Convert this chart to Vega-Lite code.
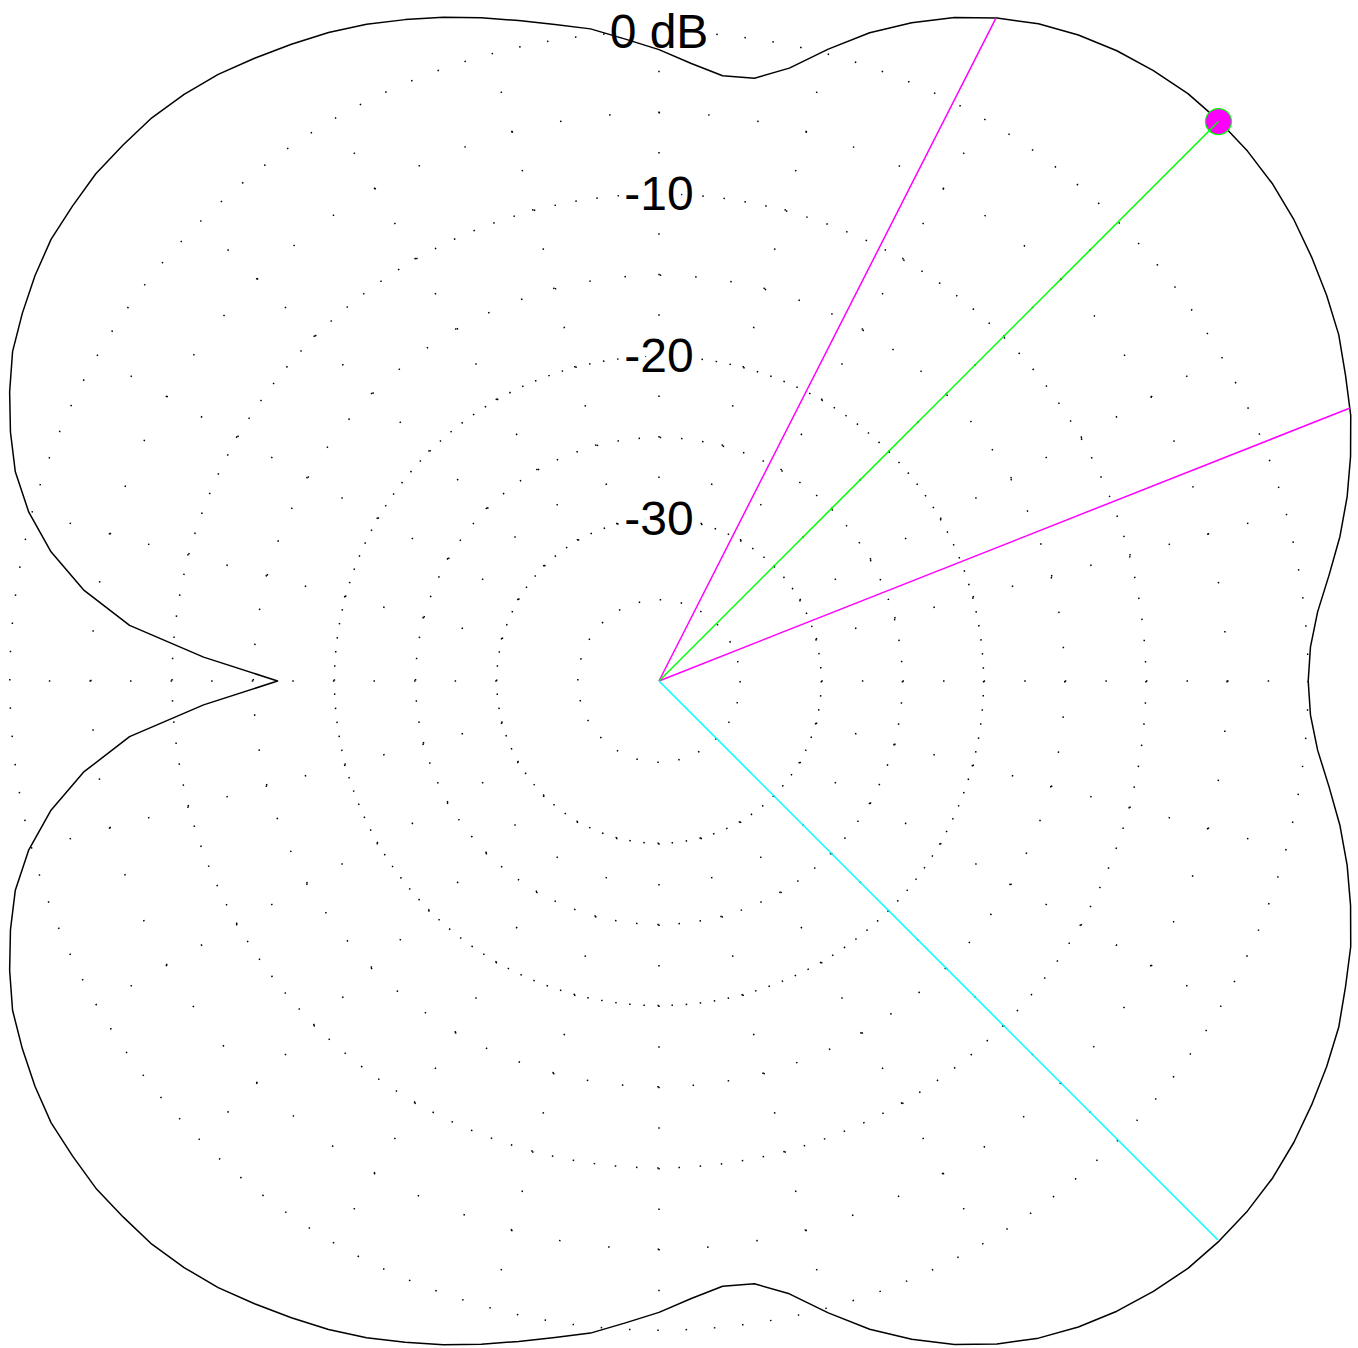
{
  "$schema": "https://vega.github.io/schema/vega-lite/v6.json",
  "width": 1358,
  "height": 1348,
  "padding": 0,
  "autosize": {"type": "none"},
  "background": "white",
  "config": {"view": {"stroke": null}},
  "datasets": {
    "pattern": [
      {"deg": 0, "x": 40.0, "y": 0.0},
      {"deg": 3, "x": 40.14, "y": 2.10},
      {"deg": 6, "x": 40.58, "y": 4.26},
      {"deg": 9, "x": 41.29, "y": 6.54},
      {"deg": 12, "x": 41.96, "y": 8.92},
      {"deg": 15, "x": 42.40, "y": 11.36},
      {"deg": 18, "x": 42.61, "y": 13.84},
      {"deg": 21, "x": 42.62, "y": 16.36},
      {"deg": 24, "x": 42.30, "y": 18.83},
      {"deg": 27, "x": 41.88, "y": 21.34},
      {"deg": 30, "x": 41.14, "y": 23.75},
      {"deg": 33, "x": 40.21, "y": 26.12},
      {"deg": 36, "x": 39.12, "y": 28.42},
      {"deg": 39, "x": 37.81, "y": 30.62},
      {"deg": 42, "x": 36.26, "y": 32.65},
      {"deg": 45, "x": 34.51, "y": 34.51},
      {"deg": 48, "x": 32.59, "y": 36.19},
      {"deg": 51, "x": 30.46, "y": 37.61},
      {"deg": 54, "x": 28.21, "y": 38.83},
      {"deg": 57, "x": 25.84, "y": 39.80},
      {"deg": 60, "x": 23.38, "y": 40.49},
      {"deg": 63, "x": 20.82, "y": 40.85},
      {"deg": 66, "x": 18.20, "y": 40.88},
      {"deg": 69, "x": 15.57, "y": 40.56},
      {"deg": 72, "x": 12.98, "y": 39.94},
      {"deg": 75, "x": 10.43, "y": 38.93},
      {"deg": 78, "x": 8.03, "y": 37.76},
      {"deg": 81, "x": 5.88, "y": 37.14},
      {"deg": 84, "x": 3.92, "y": 37.29},
      {"deg": 87, "x": 1.99, "y": 38.05},
      {"deg": 90, "x": 0.0, "y": 38.90},
      {"deg": 93, "x": -2.07, "y": 39.55},
      {"deg": 96, "x": -4.22, "y": 40.18},
      {"deg": 99, "x": -6.41, "y": 40.45},
      {"deg": 102, "x": -8.65, "y": 40.69},
      {"deg": 105, "x": -10.95, "y": 40.86},
      {"deg": 108, "x": -13.29, "y": 40.90},
      {"deg": 111, "x": -15.64, "y": 40.75},
      {"deg": 114, "x": -18.02, "y": 40.47},
      {"deg": 117, "x": -20.36, "y": 39.96},
      {"deg": 120, "x": -22.65, "y": 39.23},
      {"deg": 123, "x": -24.92, "y": 38.37},
      {"deg": 126, "x": -27.16, "y": 37.38},
      {"deg": 129, "x": -29.26, "y": 36.14},
      {"deg": 132, "x": -31.25, "y": 34.70},
      {"deg": 135, "x": -33.02, "y": 33.02},
      {"deg": 138, "x": -34.70, "y": 31.25},
      {"deg": 141, "x": -36.14, "y": 29.26},
      {"deg": 144, "x": -37.46, "y": 27.21},
      {"deg": 147, "x": -38.45, "y": 24.97},
      {"deg": 150, "x": -39.23, "y": 22.65},
      {"deg": 153, "x": -39.83, "y": 20.29},
      {"deg": 156, "x": -40.01, "y": 17.82},
      {"deg": 159, "x": -39.96, "y": 15.34},
      {"deg": 162, "x": -39.66, "y": 12.89},
      {"deg": 165, "x": -38.83, "y": 10.40},
      {"deg": 168, "x": -37.46, "y": 7.96},
      {"deg": 171, "x": -35.46, "y": 5.62},
      {"deg": 174, "x": -32.62, "y": 3.43},
      {"deg": 177, "x": -28.06, "y": 1.47},
      {"deg": 180, "x": -23.50, "y": 0.0},
      {"deg": 183, "x": -28.06, "y": -1.47},
      {"deg": 186, "x": -32.62, "y": -3.43},
      {"deg": 189, "x": -35.46, "y": -5.62},
      {"deg": 192, "x": -37.46, "y": -7.96},
      {"deg": 195, "x": -38.83, "y": -10.40},
      {"deg": 198, "x": -39.66, "y": -12.89},
      {"deg": 201, "x": -39.96, "y": -15.34},
      {"deg": 204, "x": -40.01, "y": -17.82},
      {"deg": 207, "x": -39.83, "y": -20.29},
      {"deg": 210, "x": -39.23, "y": -22.65},
      {"deg": 213, "x": -38.45, "y": -24.97},
      {"deg": 216, "x": -37.46, "y": -27.21},
      {"deg": 219, "x": -36.14, "y": -29.26},
      {"deg": 222, "x": -34.70, "y": -31.25},
      {"deg": 225, "x": -33.02, "y": -33.02},
      {"deg": 228, "x": -31.25, "y": -34.70},
      {"deg": 231, "x": -29.26, "y": -36.14},
      {"deg": 234, "x": -27.16, "y": -37.38},
      {"deg": 237, "x": -24.92, "y": -38.37},
      {"deg": 240, "x": -22.65, "y": -39.23},
      {"deg": 243, "x": -20.36, "y": -39.96},
      {"deg": 246, "x": -18.02, "y": -40.47},
      {"deg": 249, "x": -15.64, "y": -40.75},
      {"deg": 252, "x": -13.29, "y": -40.90},
      {"deg": 255, "x": -10.95, "y": -40.86},
      {"deg": 258, "x": -8.65, "y": -40.69},
      {"deg": 261, "x": -6.41, "y": -40.45},
      {"deg": 264, "x": -4.22, "y": -40.18},
      {"deg": 267, "x": -2.07, "y": -39.55},
      {"deg": 270, "x": 0.0, "y": -38.90},
      {"deg": 273, "x": 1.99, "y": -38.05},
      {"deg": 276, "x": 3.92, "y": -37.29},
      {"deg": 279, "x": 5.88, "y": -37.14},
      {"deg": 282, "x": 8.03, "y": -37.76},
      {"deg": 285, "x": 10.43, "y": -38.93},
      {"deg": 288, "x": 12.98, "y": -39.94},
      {"deg": 291, "x": 15.57, "y": -40.56},
      {"deg": 294, "x": 18.20, "y": -40.88},
      {"deg": 297, "x": 20.82, "y": -40.85},
      {"deg": 300, "x": 23.38, "y": -40.49},
      {"deg": 303, "x": 25.84, "y": -39.80},
      {"deg": 306, "x": 28.21, "y": -38.83},
      {"deg": 309, "x": 30.46, "y": -37.61},
      {"deg": 312, "x": 32.59, "y": -36.19},
      {"deg": 315, "x": 34.51, "y": -34.51},
      {"deg": 318, "x": 36.26, "y": -32.65},
      {"deg": 321, "x": 37.81, "y": -30.62},
      {"deg": 324, "x": 39.12, "y": -28.42},
      {"deg": 327, "x": 40.21, "y": -26.12},
      {"deg": 330, "x": 41.14, "y": -23.75},
      {"deg": 333, "x": 41.88, "y": -21.34},
      {"deg": 336, "x": 42.30, "y": -18.83},
      {"deg": 339, "x": 42.62, "y": -16.36},
      {"deg": 342, "x": 42.61, "y": -13.84},
      {"deg": 345, "x": 42.40, "y": -11.36},
      {"deg": 348, "x": 41.96, "y": -8.92},
      {"deg": 351, "x": 41.29, "y": -6.54},
      {"deg": 354, "x": 40.58, "y": -4.26},
      {"deg": 357, "x": 40.14, "y": -2.10},
      {"deg": 360, "x": 40.0, "y": 0.0}
    ],
    "rings": [
      {"r": 5, "cx": 0, "cy": 0}, {"r": 10, "cx": 0, "cy": 0}, {"r": 15, "cx": 0, "cy": 0}, {"r": 20, "cx": 0, "cy": 0},
      {"r": 25, "cx": 0, "cy": 0}, {"r": 30, "cx": 0, "cy": 0}, {"r": 35, "cx": 0, "cy": 0}, {"r": 40, "cx": 0, "cy": 0}
    ],
    "rays": [
      {"deg": 0, "sx": 10.0, "sy": 0.0, "ex": 40.0, "ey": 0.0},
      {"deg": 15, "sx": 9.66, "sy": 2.59, "ex": 38.64, "ey": 10.35},
      {"deg": 30, "sx": 8.66, "sy": 5.0, "ex": 34.64, "ey": 20.0},
      {"deg": 45, "sx": 7.07, "sy": 7.07, "ex": 28.28, "ey": 28.28},
      {"deg": 60, "sx": 5.0, "sy": 8.66, "ex": 20.0, "ey": 34.64},
      {"deg": 75, "sx": 2.59, "sy": 9.66, "ex": 10.35, "ey": 38.64},
      {"deg": 90, "sx": 0.0, "sy": 10.0, "ex": 0.0, "ey": 40.0},
      {"deg": 105, "sx": -2.59, "sy": 9.66, "ex": -10.35, "ey": 38.64},
      {"deg": 120, "sx": -5.0, "sy": 8.66, "ex": -20.0, "ey": 34.64},
      {"deg": 135, "sx": -7.07, "sy": 7.07, "ex": -28.28, "ey": 28.28},
      {"deg": 150, "sx": -8.66, "sy": 5.0, "ex": -34.64, "ey": 20.0},
      {"deg": 165, "sx": -9.66, "sy": 2.59, "ex": -38.64, "ey": 10.35},
      {"deg": 180, "sx": -10.0, "sy": 0.0, "ex": -40.0, "ey": 0.0},
      {"deg": 195, "sx": -9.66, "sy": -2.59, "ex": -38.64, "ey": -10.35},
      {"deg": 210, "sx": -8.66, "sy": -5.0, "ex": -34.64, "ey": -20.0},
      {"deg": 225, "sx": -7.07, "sy": -7.07, "ex": -28.28, "ey": -28.28},
      {"deg": 240, "sx": -5.0, "sy": -8.66, "ex": -20.0, "ey": -34.64},
      {"deg": 255, "sx": -2.59, "sy": -9.66, "ex": -10.35, "ey": -38.64},
      {"deg": 270, "sx": 0.0, "sy": -10.0, "ex": 0.0, "ey": -40.0},
      {"deg": 285, "sx": 2.59, "sy": -9.66, "ex": 10.35, "ey": -38.64},
      {"deg": 300, "sx": 5.0, "sy": -8.66, "ex": 20.0, "ey": -34.64},
      {"deg": 315, "sx": 7.07, "sy": -7.07, "ex": 28.28, "ey": -28.28},
      {"deg": 330, "sx": 8.66, "sy": -5.0, "ex": 34.64, "ey": -20.0},
      {"deg": 345, "sx": 9.66, "sy": -2.59, "ex": 38.64, "ey": -10.35}
    ],
    "labels": [
      {"label": "0 dB", "cx": 0, "r": 40},
      {"label": "-10", "cx": 0, "r": 30},
      {"label": "-20", "cx": 0, "r": 20},
      {"label": "-30", "cx": 0, "r": 10}
    ],
    "markers": [
      {"kind": "hpbw", "cx": 0, "cy": 0, "ex": 20.76, "ey": 40.84},
      {"kind": "hpbw", "cx": 0, "cy": 0, "ex": 42.58, "ey": 16.82},
      {"kind": "peak", "cx": 0, "cy": 0, "ex": 34.47, "ey": 34.47},
      {"kind": "back", "cx": 0, "cy": 0, "ex": 34.44, "ey": -34.44}
    ]
  },
  "layer": [
    {
      "data": {"name": "rings"},
      "transform": [{"filter": "datum.r === 5 || datum.r === 15 || datum.r === 30"}],
      "mark": {"type": "point", "shape": "circle", "filled": false, "color": "black", "strokeWidth": 1.5, "strokeDash": [1.5, 19.75], "opacity": 1},
      "encoding": {
        "x": {"field": "cx", "type": "quantitative", "scale": {"domain": [-40.604, 43.068], "nice": false, "zero": false}, "axis": null},
        "y": {"field": "cy", "type": "quantitative", "scale": {"domain": [-41.097, 41.959], "nice": false, "zero": false}, "axis": null},
        "size": {"field": "r", "type": "quantitative", "legend": null, "scale": {"type": "pow", "exponent": 2, "domain": [0, 40], "range": [0, 1685843], "zero": true, "nice": false}}
      }
    },
    {
      "data": {"name": "rings"},
      "transform": [{"filter": "datum.r === 10 || datum.r === 20"}],
      "mark": {"type": "point", "shape": "circle", "filled": false, "color": "black", "strokeWidth": 1.5, "strokeDash": [1.5, 12.66], "opacity": 1},
      "encoding": {
        "x": {"field": "cx", "type": "quantitative", "scale": {"domain": [-40.604, 43.068], "nice": false, "zero": false}, "axis": null},
        "y": {"field": "cy", "type": "quantitative", "scale": {"domain": [-41.097, 41.959], "nice": false, "zero": false}, "axis": null},
        "size": {"field": "r", "type": "quantitative", "legend": null, "scale": {"type": "pow", "exponent": 2, "domain": [0, 40], "range": [0, 1685843], "zero": true, "nice": false}}
      }
    },
    {
      "data": {"name": "rings"},
      "transform": [{"filter": "datum.r === 25"}],
      "mark": {"type": "point", "shape": "circle", "filled": false, "color": "black", "strokeWidth": 1.5, "strokeDash": [1.5, 33.91], "opacity": 1},
      "encoding": {
        "x": {"field": "cx", "type": "quantitative", "scale": {"domain": [-40.604, 43.068], "nice": false, "zero": false}, "axis": null},
        "y": {"field": "cy", "type": "quantitative", "scale": {"domain": [-41.097, 41.959], "nice": false, "zero": false}, "axis": null},
        "size": {"field": "r", "type": "quantitative", "legend": null, "scale": {"type": "pow", "exponent": 2, "domain": [0, 40], "range": [0, 1685843], "zero": true, "nice": false}}
      }
    },
    {
      "data": {"name": "rings"},
      "transform": [{"filter": "datum.r === 35"}],
      "mark": {"type": "point", "shape": "circle", "filled": false, "color": "black", "strokeWidth": 1.5, "strokeDash": [1.5, 48.07], "opacity": 1},
      "encoding": {
        "x": {"field": "cx", "type": "quantitative", "scale": {"domain": [-40.604, 43.068], "nice": false, "zero": false}, "axis": null},
        "y": {"field": "cy", "type": "quantitative", "scale": {"domain": [-41.097, 41.959], "nice": false, "zero": false}, "axis": null},
        "size": {"field": "r", "type": "quantitative", "legend": null, "scale": {"type": "pow", "exponent": 2, "domain": [0, 40], "range": [0, 1685843], "zero": true, "nice": false}}
      }
    },
    {
      "data": {"name": "rings"},
      "transform": [{"filter": "datum.r === 40"}],
      "mark": {"type": "point", "shape": "circle", "filled": false, "color": "black", "strokeWidth": 1.5, "strokeDash": [1.5, 26.83], "opacity": 1},
      "encoding": {
        "x": {"field": "cx", "type": "quantitative", "scale": {"domain": [-40.604, 43.068], "nice": false, "zero": false}, "axis": null},
        "y": {"field": "cy", "type": "quantitative", "scale": {"domain": [-41.097, 41.959], "nice": false, "zero": false}, "axis": null},
        "size": {"field": "r", "type": "quantitative", "legend": null, "scale": {"type": "pow", "exponent": 2, "domain": [0, 40], "range": [0, 1685843], "zero": true, "nice": false}}
      }
    },
    {
      "data": {"name": "rays"},
      "mark": {"type": "rule", "color": "black", "strokeWidth": 1.5, "strokeDash": [1.5, 39.08]},
      "encoding": {
        "x": {"field": "sx", "type": "quantitative", "scale": {"domain": [-40.604, 43.068], "nice": false, "zero": false}, "axis": null},
        "y": {"field": "sy", "type": "quantitative", "scale": {"domain": [-41.097, 41.959], "nice": false, "zero": false}, "axis": null},
        "x2": {"field": "ex"},
        "y2": {"field": "ey"}
      }
    },
    {
      "data": {"name": "labels"},
      "mark": {"type": "text", "font": "Liberation Sans", "fontSize": 48, "align": "center", "baseline": "middle", "dy": 2, "color": "white", "stroke": "white", "strokeWidth": 10, "strokeJoin": "round"},
      "encoding": {
        "x": {"field": "cx", "type": "quantitative", "scale": {"domain": [-40.604, 43.068], "nice": false, "zero": false}, "axis": null},
        "y": {"field": "r", "type": "quantitative", "scale": {"domain": [-41.097, 41.959], "nice": false, "zero": false}, "axis": null},
        "text": {"field": "label", "type": "nominal"}
      }
    },
    {
      "data": {"name": "labels"},
      "mark": {"type": "text", "font": "Liberation Sans", "fontSize": 48, "align": "center", "baseline": "middle", "dy": 2, "color": "black"},
      "encoding": {
        "x": {"field": "cx", "type": "quantitative", "scale": {"domain": [-40.604, 43.068], "nice": false, "zero": false}, "axis": null},
        "y": {"field": "r", "type": "quantitative", "scale": {"domain": [-41.097, 41.959], "nice": false, "zero": false}, "axis": null},
        "text": {"field": "label", "type": "nominal"}
      }
    },
    {
      "data": {"name": "pattern"},
      "mark": {"type": "line", "color": "black", "strokeWidth": 1.5, "strokeJoin": "round"},
      "encoding": {
        "x": {"field": "x", "type": "quantitative", "scale": {"domain": [-40.604, 43.068], "nice": false, "zero": false}, "axis": null},
        "y": {"field": "y", "type": "quantitative", "scale": {"domain": [-41.097, 41.959], "nice": false, "zero": false}, "axis": null},
        "order": {"field": "deg", "type": "quantitative"}
      }
    },
    {
      "data": {"name": "markers"},
      "transform": [{"filter": "datum.kind === 'hpbw'"}],
      "mark": {"type": "rule", "strokeWidth": 1.5, "color": "#ff00ff"},
      "encoding": {
        "x": {"field": "cx", "type": "quantitative", "scale": {"domain": [-40.604, 43.068], "nice": false, "zero": false}, "axis": null},
        "y": {"field": "cy", "type": "quantitative", "scale": {"domain": [-41.097, 41.959], "nice": false, "zero": false}, "axis": null},
        "x2": {"field": "ex"},
        "y2": {"field": "ey"}
      }
    },
    {
      "data": {"name": "markers"},
      "transform": [{"filter": "datum.kind === 'back'"}],
      "mark": {"type": "rule", "strokeWidth": 1.5, "color": "#00ffff"},
      "encoding": {
        "x": {"field": "cx", "type": "quantitative", "scale": {"domain": [-40.604, 43.068], "nice": false, "zero": false}, "axis": null},
        "y": {"field": "cy", "type": "quantitative", "scale": {"domain": [-41.097, 41.959], "nice": false, "zero": false}, "axis": null},
        "x2": {"field": "ex"},
        "y2": {"field": "ey"}
      }
    },
    {
      "data": {"name": "markers"},
      "transform": [{"filter": "datum.kind === 'peak'"}],
      "mark": {"type": "point", "shape": "circle", "filled": true, "fill": "#ff00ff", "stroke": "#00ff00", "strokeWidth": 1.2, "size": 676, "opacity": 1},
      "encoding": {
        "x": {"field": "ex", "type": "quantitative", "scale": {"domain": [-40.604, 43.068], "nice": false, "zero": false}, "axis": null},
        "y": {"field": "ey", "type": "quantitative", "scale": {"domain": [-41.097, 41.959], "nice": false, "zero": false}, "axis": null}
      }
    },
    {
      "data": {"name": "markers"},
      "transform": [{"filter": "datum.kind === 'peak'"}],
      "mark": {"type": "rule", "strokeWidth": 1.5, "color": "#00ff00"},
      "encoding": {
        "x": {"field": "cx", "type": "quantitative", "scale": {"domain": [-40.604, 43.068], "nice": false, "zero": false}, "axis": null},
        "y": {"field": "cy", "type": "quantitative", "scale": {"domain": [-41.097, 41.959], "nice": false, "zero": false}, "axis": null},
        "x2": {"field": "ex"},
        "y2": {"field": "ey"}
      }
    }
  ]
}
